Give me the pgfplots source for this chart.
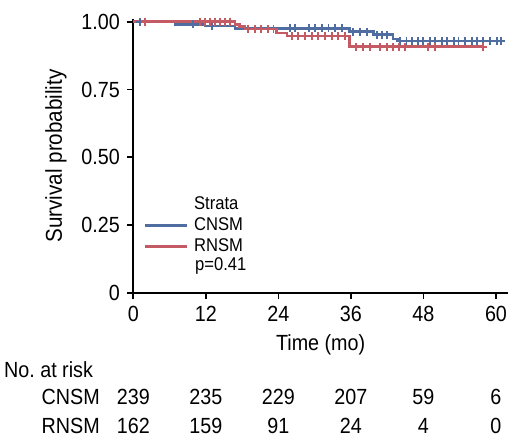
\documentclass[border=0pt]{standalone}
\usepackage{pgfplots}
\pgfplotsset{compat=1.18}
\usepackage{fontspec}
\setmainfont{Liberation Sans}[FakeStretch=0.9]
\definecolor{cblue}{HTML}{4F6DA0}
\definecolor{cred}{HTML}{C45A64}
\begin{document}
\fontsize{22}{26}\selectfont
\begin{tikzpicture}
\begin{axis}[
  scale only axis, width=374.7bp, height=273.7bp,
  xmin=0, xmax=62, ymin=0, ymax=1.01,
  axis lines*=left,
  axis line style={line width=1.6bp, black},
  xtick={0,12,24,36,48,60},
  ytick={0,0.25,0.5,0.75,1}, yticklabels={0,0.25,0.50,0.75,1.00},
  tick style={line width=1.6bp, black}, major tick length=6bp, tick align=outside,
  /pgf/number format/assume math mode=true,
  ticklabel style={font=\fontsize{22}{26}\selectfont},
  xlabel style={font=\fontsize{22}{26}\selectfont, yshift=2bp},
  ylabel style={font=\fontsize{23}{27}\selectfont},
  xlabel={Time (mo)}, ylabel={Survival probability},
  clip=false,
  legend cell align=left,
  legend image code/.code={\draw[#1] (0bp,0bp) -- (42bp,0bp);},
  legend style={at={(axis cs:1.27,0.368)}, anchor=north west, draw=none, fill=none,
    font=\fontsize{18.5}{21}\selectfont, row sep=2bp, column sep=4bp,
    nodes={inner sep=1.5bp, text height=13bp, text depth=3bp}},
]
\addlegendimage{empty legend}\addlegendentry{Strata}
% CNSM curve
\addplot[cblue, line width=2.5bp, const plot] coordinates {
(0,1) (6.9,0.9905) (11.9,0.984) (16.8,0.975) (35.8,0.963) (39.7,0.952) (43.0,0.937) (43.8,0.929) (61.2,0.929)};
\addlegendentry{CNSM}
% RNSM curve
\addplot[cred, line width=2.5bp, const plot] coordinates {
(0,1) (16.8,0.990) (17.6,0.982) (18.5,0.973) (23.7,0.959) (25.4,0.948) (35.8,0.908) (57.9,0.908)};
\addlegendentry{RNSM}
% CNSM censor marks
\addplot[cblue, only marks, mark=+, mark size=4bp, line width=1.9bp, forget plot] coordinates {
(1.1,1) (9.9,0.9905) (13.0,0.984)
(25.9,0.975) (26.7,0.975) (29.0,0.975) (30.1,0.975) (31.2,0.975) (32.3,0.975) (33.4,0.975) (34.5,0.975)
(36.4,0.963) (37.5,0.963) (38.6,0.963)
(40.3,0.952) (41.1,0.952) (41.9,0.952)
(44.1,0.929) (45.2,0.929) (46.1,0.929) (47.1,0.929) (48.0,0.929) (49.1,0.929) (49.9,0.929) (51.0,0.929) (51.9,0.929) (53.0,0.929) (53.8,0.929) (54.9,0.929) (56.0,0.929) (56.8,0.929) (57.9,0.929) (59.0,0.929) (60.1,0.929) (60.9,0.929)};
% RNSM censor marks
\addplot[cred, only marks, mark=+, mark size=4bp, line width=1.9bp, forget plot] coordinates {
(1.9,1) (11.0,1) (11.9,1) (12.7,1) (13.5,1) (14.4,1) (15.2,1) (16.0,1)
(19.0,0.973) (20.1,0.973) (21.2,0.973) (22.3,0.973) (23.2,0.973)
(26.2,0.948) (27.3,0.948) (28.4,0.948) (29.5,0.948) (30.6,0.948) (31.7,0.948) (32.8,0.948) (33.9,0.948) (35.0,0.948)
(36.9,0.908) (38.0,0.908) (39.2,0.908) (40.8,0.908) (41.9,0.908) (42.9,0.908) (43.9,0.908) (44.9,0.908) (48.8,0.908) (49.9,0.908) (57.9,0.908)};
\node[anchor=west, font=\fontsize{18.5}{21}\selectfont, inner sep=0pt] at (axis cs:10.2,0.100) {p=0.41};
% risk table
\node[anchor=west, inner sep=0pt] at (axis cs:-21.4,-0.285) {No.\ at\ risk};
\node[anchor=east, inner sep=0pt] at (axis cs:-5.5,-0.385) {CNSM};
\node[anchor=east, inner sep=0pt] at (axis cs:-5.5,-0.492) {RNSM};
\node[inner sep=0pt] at (axis cs:0,-0.385) {239};
\node[inner sep=0pt] at (axis cs:12,-0.385) {235};
\node[inner sep=0pt] at (axis cs:24,-0.385) {229};
\node[inner sep=0pt] at (axis cs:36,-0.385) {207};
\node[inner sep=0pt] at (axis cs:48,-0.385) {59};
\node[inner sep=0pt] at (axis cs:60,-0.385) {6};
\node[inner sep=0pt] at (axis cs:0,-0.492) {162};
\node[inner sep=0pt] at (axis cs:12,-0.492) {159};
\node[inner sep=0pt] at (axis cs:24,-0.492) {91};
\node[inner sep=0pt] at (axis cs:36,-0.492) {24};
\node[inner sep=0pt] at (axis cs:48,-0.492) {4};
\node[inner sep=0pt] at (axis cs:60,-0.492) {0};
\coordinate (bbA) at (axis cs:-22.05,1.0801);
\coordinate (bbB) at (axis cs:62.32,-0.5362);
\end{axis}
\pgfresetboundingbox
\path[use as bounding box] (bbA) rectangle (bbB);
\end{tikzpicture}
\end{document}
